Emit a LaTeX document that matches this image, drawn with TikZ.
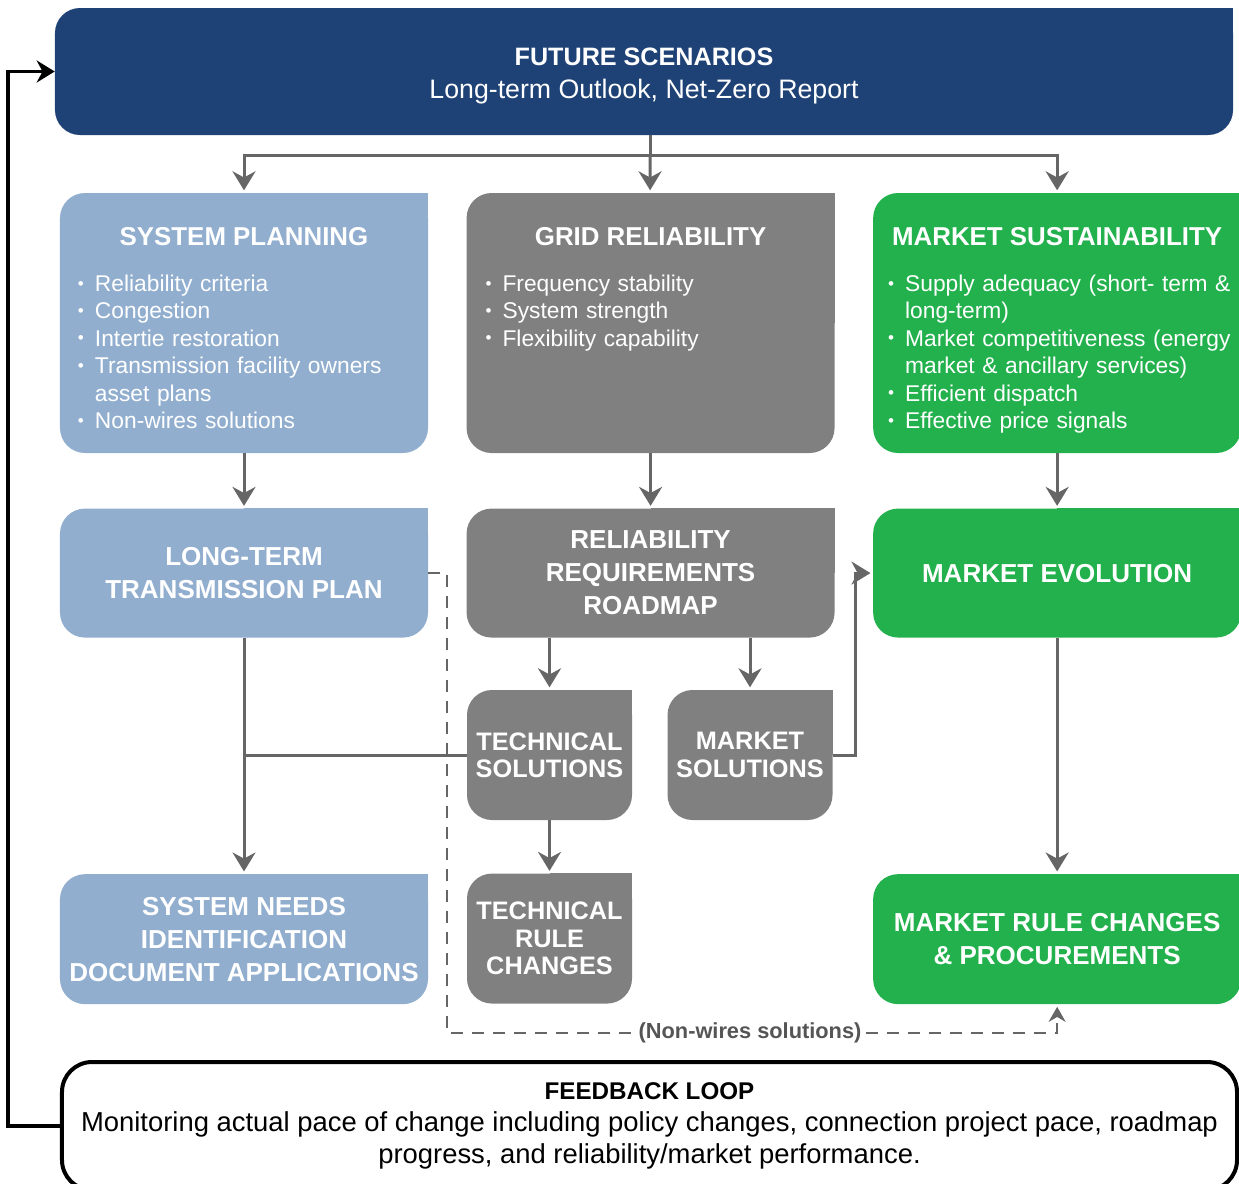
\documentclass[tikz,border=0pt]{standalone}
\usepackage{fontspec}
\setmainfont{Liberation Sans}
\usetikzlibrary{positioning}
\usetikzlibrary{calc}
\usetikzlibrary{arrows.meta}
\usetikzlibrary{backgrounds}

\definecolor{navy}{HTML}{1F4276}
\definecolor{steel}{HTML}{91AECF}
\definecolor{slate}{HTML}{808080}
\definecolor{leaf}{HTML}{22B14C}
\definecolor{wire}{HTML}{666666}
\definecolor{note}{HTML}{555555}

% bullet item with hanging indent
\newcommand{\itm}[1]{\par\hangindent=4.25mm\hangafter=1\noindent\makebox[4.25mm][l]{\raisebox{0.2ex}{\scalebox{0.75}{\textbullet}}}#1}

\begin{document}
\begin{tikzpicture}[x=0.25mm, y=-0.25mm]
% -------------------------------------------------
\tikzset{
  box/.style={fill=#1, rounded corners=6.25mm, text=white, align=center, inner sep=0pt, font=\bfseries\fontsize{18.5}{23.5}\selectfont},
  wide/.style={box=#1, minimum width=92mm, minimum height=32.25mm},
  tall/.style={box=#1, minimum width=92mm, minimum height=65mm},
  small/.style={box=#1, minimum width=41.25mm, minimum height=32.5mm, font=\bfseries\fontsize{18}{19.5}\selectfont},
  head/.style={text=white, inner sep=0pt, font=\bfseries\fontsize{18.4}{22}\selectfont},
  list/.style={text=white, text width=100mm, align=left, inner sep=0pt, font=\fontsize{16.2}{19.5}\selectfont},
  line/.style={draw=wire, line width=0.75mm},
  arr/.style={line, -{Stealth[length=4.75mm, width=5.75mm]}, shorten >=0.6mm},
  dsh/.style={draw=wire, line width=0.5mm, dash pattern=on 3mm off 2.25mm},
  loop/.style={draw=black, line width=0.9mm, -{Stealth[length=4.5mm, width=5.5mm]}}
}

    \useasboundingbox (0,0) rectangle (1239,1183);                 % page size in px
    \clip (0,0) rectangle (1239,1183);

    \node [box=navy, minimum width=294.5mm, minimum height=31.75mm] (fs) at (644,71.5)
          {\rule{0pt}{6.8mm}\fontsize{17.9}{23.5}\selectfont FUTURE SCENARIOS\\ \mdseries\fontsize{19}{23.5}\selectfont Long-term Outlook, Net-Zero Report};

    \node [tall=steel] (sp) at (244,323) {};                        % column 1
    \node [tall=slate, right=9.5mm of sp] (gr) {};                  % column 2
    \node [tall=leaf, right=9.5mm of gr] (ms) {};                   % column 3

    \node [head] (sph) at ([yshift=-11mm]sp.north) {SYSTEM PLANNING};
    \node [head] (grh) at ([yshift=-11mm]gr.north) {GRID RELIABILITY};
    \node [head] (msh) at ([yshift=-11mm]ms.north) {MARKET SUSTAINABILITY};

    \node [list, anchor=north west] (spl) at ([xshift=4.5mm, yshift=-17.75mm]sp.north west)
          {\itm{Reliability criteria}\itm{Congestion}\itm{Intertie restoration}%
           \itm{Transmission facility owners\newline asset plans}\itm{Non-wires solutions}};
    \node [list, anchor=north west] (grl) at ([xshift=4.75mm, yshift=-17.75mm]gr.north west)
          {\itm{Frequency stability}\itm{System strength}\itm{Flexibility capability}};
    \node [list, anchor=north west] (msl) at ([xshift=3.75mm, yshift=-17.75mm]ms.north west)
          {\itm{Supply adequacy (short- term \&\newline long-term)}%
           \itm{Market competitiveness (energy\newline market \& ancillary services)}%
           \itm{Efficient dispatch}\itm{Effective price signals}};

    \node [wide=steel, below=13.75mm of sp] (lt) {LONG-TERM\\ TRANSMISSION PLAN};
    \node [wide=slate, below=13.75mm of gr] (rr) {RELIABILITY\\ REQUIREMENTS\\ ROADMAP};
    \node [wide=leaf, below=13.75mm of ms] (me) {MARKET EVOLUTION};

    \node [small=slate] (ts) at (549.5,755) {TECHNICAL\\ SOLUTIONS};
    \node [small=slate] (mks) at (750,755) {MARKET\\ SOLUTIONS};

    \node [wide=steel, minimum height=32.5mm, below=59mm of lt] (sn) {SYSTEM NEEDS\\ IDENTIFICATION\\ DOCUMENT APPLICATIONS};
    \node [small=slate, below=13.25mm of ts] (tr) {TECHNICAL\\ RULE\\ CHANGES};
    \node [wide=leaf, minimum height=32.5mm, below=59mm of me] (mr) {MARKET RULE CHANGES\\ \& PROCUREMENTS};

    \node [draw=black, line width=1mm, rounded corners=7.5mm, fill=white, minimum width=293.75mm, minimum height=32mm,
           align=center, font=\fontsize{19.5}{23}\selectfont] (fb) at (649.5,1126)
          {{\bfseries\fontsize{17.2}{23}\selectfont FEEDBACK LOOP}\\
           Monitoring actual pace of change including policy changes, connection project pace, roadmap\\
           progress, and reliability/market performance.};

    \node [fill=white, inner sep=1mm, text=note, font=\bfseries\fontsize{15.5}{18}\selectfont] (nws) at (750,1033) {(Non-wires solutions)};

    % square top-right corners
    \begin{scope}[on background layer]
      \foreach \n/\c in {fs/navy, sp/steel, gr/slate, ms/leaf, lt/steel, rr/slate, me/leaf,
                         ts/slate, mks/slate, sn/steel, tr/slate, mr/leaf}
        \fill [\c] (\n.center) rectangle (\n.north east);
    \end{scope}

    \coordinate (hub) at (650,155);
    \path [line] (fs.south -| hub) -- (hub);
    \path [arr] (hub) -- (gr);
    \path [arr] (hub) -| (sp.north);
    \path [arr] (hub) -| (ms.north);

    \path [arr] (sp) -- (lt);
    \path [arr] (gr) -- (rr);
    \path [arr] (ms) -- (me);

    \path [arr] (rr.south -| ts.north) -- (ts.north);
    \path [arr] (rr.south -| mks.north) -- (mks.north);
    \path [arr] (ts) -- (tr);
    \path [arr] (lt) -- (sn);
    \path [line] (ts.west) -- (ts.west -| lt.south);
    \path [arr] (mks.east) -- ++(23,0) |- (me.west);
    \path [arr] (me) -- (mr);

    \path [dsh] (lt.east) -- ++(19,0) |- (nws.west);
    \path [dsh, -{Stealth[length=3.75mm, width=4.25mm]}, shorten >=0.6mm] (nws.east) -| (mr.south);

    \path [loop] (fb.west) -- ++(-52,0) |- (fs.west);

\end{tikzpicture}
\end{document}
